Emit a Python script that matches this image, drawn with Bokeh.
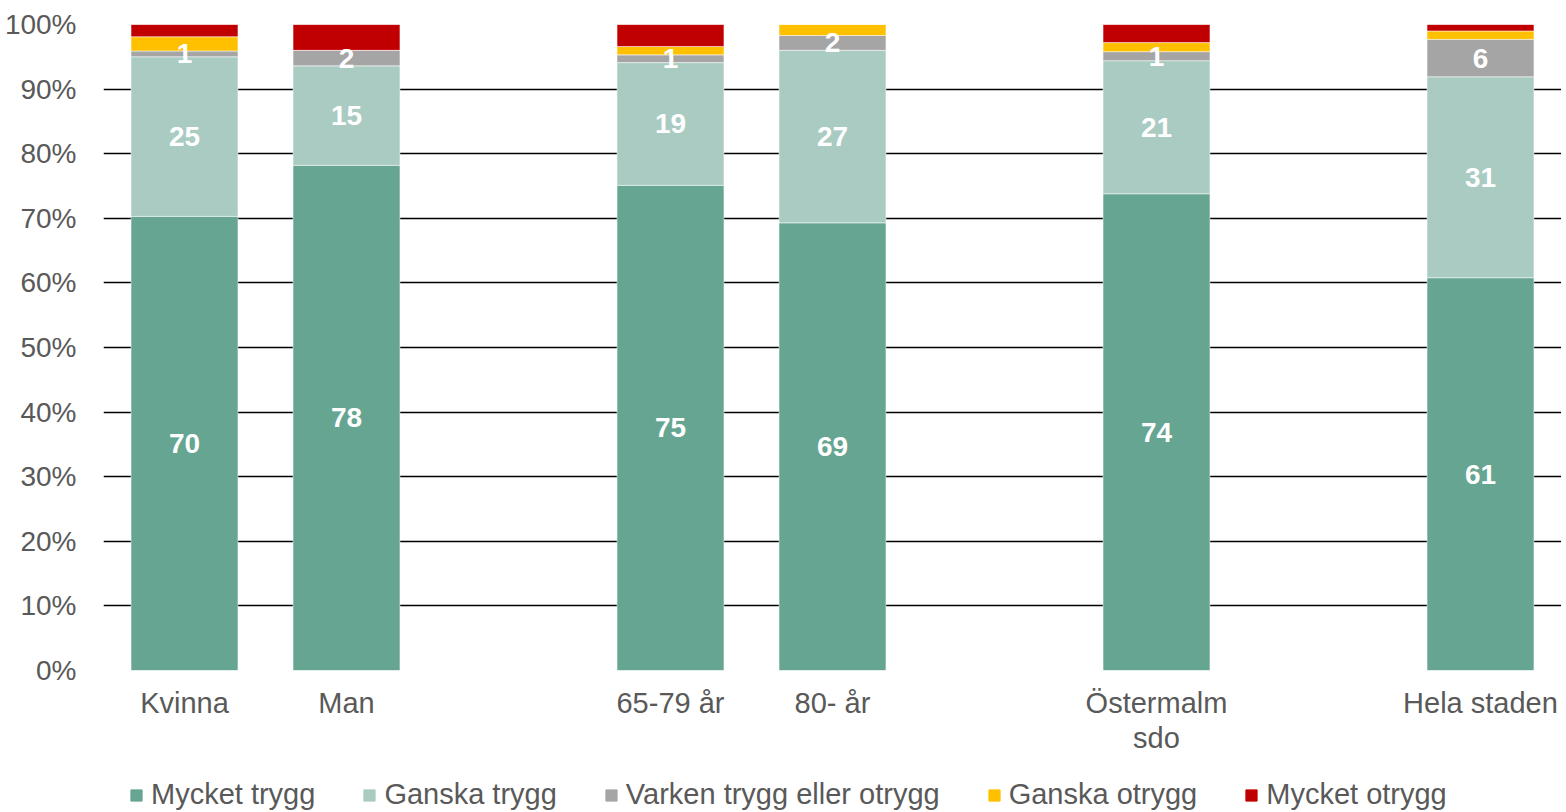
from bokeh.plotting import figure
from bokeh.models import ColumnDataSource, FactorRange, Range1d, FixedTicker, Legend, LegendItem, LabelSet
from bokeh.layouts import column
from bokeh.core.properties import value
from bokeh.embed import file_html
from bokeh.resources import INLINE

# ---- data ----
all_factors = ["Kvinna", "Man", " ", "65-79 år", "80- år", "  ", "Östermalm\nsdo", "   ", "Hela staden"]
categories = ["Kvinna", "Man", "65-79 år", "80- år", "Östermalm\nsdo", "Hela staden"]
series = ["Mycket trygg", "Ganska trygg", "Varken trygg eller otrygg", "Ganska otrygg", "Mycket otrygg"]
mycket_trygg = [70.3, 78.2, 75.1, 69.3, 73.8, 60.8]
ganska_trygg = [24.7, 15.4, 19.0, 26.7, 20.6, 31.1]
varken = [0.9, 2.4, 1.2, 2.3, 1.4, 5.8]
ganska_otrygg = [2.2, 0.0, 1.3, 1.7, 1.4, 1.3]
mycket_otrygg = [1.9, 4.0, 3.4, 0.0, 2.8, 1.0]
colors = ["#65A591", "#A9CBC1", "#A5A5A5", "#FFC000", "#C00000"]
y_ticks = [0, 10, 20, 30, 40, 50, 60, 70, 80, 90, 100]

FONT = "Liberation Sans"
GREY = "#595959"

keys = ["s0", "s1", "s2", "s3", "s4"]
data = dict(cat=categories)
for k, vals in zip(keys, [mycket_trygg, ganska_trygg, varken, ganska_otrygg, mycket_otrygg]):
    data[k] = vals
source = ColumnDataSource(data)

p = figure(frame_width=1458, frame_height=646,
           x_range=FactorRange(*all_factors, range_padding=0),
           y_range=Range1d(0, 100), output_backend="svg", toolbar_location=None,
           min_border_left=103, min_border_right=0, min_border_top=24, min_border_bottom=80)
p.outline_line_color = None
p.background_fill_color = "white"
p.border_fill_color = "white"

renderers = p.vbar_stack(keys, x="cat", width=0.66, source=source, color=colors,
                         line_color="white", line_width=0.5)

# data labels for the first three series
lab_x, lab_y, lab_t = [], [], []
for i, c in enumerate(categories):
    base = 0.0
    for vals in [mycket_trygg, ganska_trygg, varken]:
        v = vals[i]
        lab_x.append(c)
        lab_y.append(base + v / 2)
        lab_t.append(str(int(round(v))))
        base += v
lsrc = ColumnDataSource(dict(x=lab_x, y=lab_y, t=lab_t))
labels = LabelSet(x="x", y="y", text="t", source=lsrc, text_align="center", text_baseline="middle",
                  text_color="white", text_font=value(FONT), text_font_style="bold",
                  text_font_size=value("28px"))
p.add_layout(labels)

# axes
p.yaxis.ticker = FixedTicker(ticks=y_ticks)
p.yaxis.major_label_overrides = {t: f"{t}%" for t in y_ticks}
p.yaxis.axis_line_color = None
p.yaxis.major_tick_line_color = None
p.yaxis.minor_tick_line_color = None
p.yaxis.major_label_standoff = 21
p.yaxis.major_label_text_font = FONT
p.yaxis.major_label_text_font_size = "28px"
p.yaxis.major_label_text_color = GREY

p.xaxis.axis_line_color = None
p.xaxis.major_tick_line_color = None
p.xaxis.minor_tick_line_color = None
p.xaxis.major_label_standoff = 10
p.xaxis.major_label_text_font = FONT
p.xaxis.major_label_text_font_size = "29px"
p.xaxis.major_label_text_color = GREY
p.xaxis.major_label_text_line_height = 1.1

p.xgrid.grid_line_color = None
p.ygrid.grid_line_color = "black"
p.ygrid.grid_line_width = 1.5
p.ygrid.level = "underlay"

# legend in a separate strip below the chart
lf = figure(width=1561, height=58, output_backend="svg", toolbar_location=None,
            x_range=Range1d(0, 1), y_range=Range1d(0, 1),
            min_border=0, min_border_left=0, min_border_right=0, min_border_top=0, min_border_bottom=0)
lf.axis.visible = False
lf.grid.visible = False
lf.outline_line_color = None
lf.background_fill_color = "white"
lf.border_fill_color = "white"
items = []
for s, c in zip(series, colors):
    # single off-screen point so the legend swatch is drawn
    r = lf.vbar(x=[-5], top=[-5], bottom=[-6], width=0.1, color=c)
    items.append(LegendItem(label=s, renderers=[r], index=0))
legend = Legend(items=items, orientation="horizontal", location=(26, 3),
                glyph_width=14, glyph_height=14, label_standoff=8, spacing=47,
                label_text_font=FONT, label_text_font_size="29px", label_text_color=GREY,
                border_line_color=None, background_fill_alpha=0, padding=0, margin=0)
lf.add_layout(legend, "center")

layout = column(p, lf, spacing=0)
open("out.html", "w").write(file_html(layout, INLINE))
